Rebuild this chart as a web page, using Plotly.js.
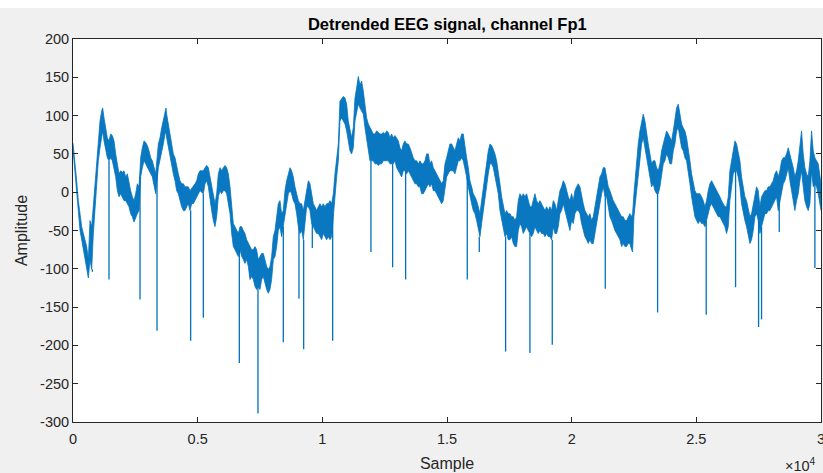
<!DOCTYPE html>
<html>
<head>
<meta charset="utf-8">
<script src="https://cdn.plot.ly/plotly-3.0.1.min.js"></script>
<style>html,body{margin:0;padding:0;background:#f0f0f0;}#chart{width:823px;height:473px;}</style>
</head>
<body>
<div id="chart"></div>
<script>
// ---- Data ----
// Sample index of each envelope reading
const sampleIdx = [
0,81,147,214,281,348,415,482,549,615,682,749,816,883,950,1016,1083,1150,1190,1244,1311,1377,1444,1511,1578,1645,1712,1779,1845,1912,1979,2046,2113,2180,2246,2313,2380,2447,2514,2581,2648,2714,2781,2848,2915,2982,3049,3116,3182,3249,3316,3423,
3489,3556,3623,3690,3730,3756,3823,3890,3957,4024,4091,4158,4224,4291,4358,4425,4492,4559,4625,4692,4759,4826,4893,4960,5027,5093,5160,5227,5294,5361,5428,5495,5561,5628,5695,5762,5829,5896,5962,6029,6096,6163,6230,6297,6364,6430,6497,6564,6631,6698,6765,6832,6898,6965,7032,
7098,7165,7232,7299,7365,7432,7499,7566,7633,7700,7767,7833,7900,7967,8034,8101,8168,8234,8301,8368,8435,8502,8569,8636,8702,8769,8836,8903,8970,9037,9104,9170,9237,9304,9371,9438,9505,9572,9638,9705,9772,9839,9906,9973,10039,10106,10173,10240,10307,10374,10441,10507,10574,10641,
10707,10774,10841,10908,10975,11041,11108,11175,11242,11309,11375,11442,11509,11576,11643,11710,11777,11843,11910,11977,12044,12111,12178,12245,12311,12378,12445,12512,12579,12646,12713,12779,12846,12913,12980,13047,13114,13180,13247,13314,13381,13448,13515,13582,13648,13715,13782,13849,13916,13983,14050,14116,14183,14250,
14316,14383,14450,14517,14583,14650,14717,14784,14851,14918,14985,15051,15118,15185,15252,15319,15386,15452,15519,15586,15653,15720,15787,15854,15920,15987,16054,16121,16188,16255,16322,16388,16455,16522,16589,16656,16723,16790,16857,16923,16990,17057,17124,17191,17258,17324,17391,17458,17525,17592,17659,17725,17792,17859,
17925,17992,18059,18126,18192,18259,18326,18393,18460,18527,18594,18660,18727,18794,18861,18928,18995,19061,19128,19195,19262,19329,19396,19463,19529,19596,19663,19730,19797,19864,19930,19997,20064,20131,20198,20265,20332,20398,20465,20532,20599,20666,20733,20800,20866,20933,21000,21067,21134,21201,21267,21334,21401,21468,
21534,21601,21668,21735,21801,21868,21935,22002,22069,22136,22203,22269,22336,22403,22443,22497,22537,22604,22670,22737,22804,22871,22938,23005,23072,23138,23205,23272,23339,23406,23473,23540,23606,23673,23740,23807,23874,23941,24007,24074,24141,24208,24275,24342,24409,24475,24542,24609,24676,24743,24810,24876,24943,25010,25077,
25143,25210,25277,25344,25410,25477,25544,25611,25678,25745,25812,25878,25945,26012,26079,26146,26213,26279,26346,26413,26480,26547,26614,26681,26747,26814,26881,26948,27015,27082,27149,27215,27282,27349,27416,27483,27550,27616,27683,27750,27817,27884,27951,28018,28084,28151,28218,28285,28352,28419,28486,28552,28619,28686,28753,28820,28887,28953,
29020,29087,29153,29220,29287,29354,29421,29488,29555,29621,29688,29755,29822,29889,30000
];
// Upper edge of the noisy signal band (amplitude)
const upperEnv = [
64,41,15,-11,-28,-45,-54,-62,-71,-88,-37,-45,-19,15,41,67,93,106,110,97,84,71,67,76,74,67,50,37,24,28,26,28,20,24,11,2,-6,-11,-2,11,7,45,58,67,65,61,54,45,41,32,24,63,
71,84,93,106,110,102,89,76,63,50,45,32,24,15,11,11,7,7,7,2,5,7,11,15,24,28,28,28,32,35,32,20,7,-6,-15,-2,24,32,28,32,35,32,24,7,-19,-41,-45,-50,-54,-45,-45,-50,-54,-62,-67,
-71,-75,-75,-71,-75,-88,-84,-80,-80,-88,-97,-101,-97,-84,-58,-50,-32,-15,-11,-28,-24,2,15,24,32,28,20,7,-2,-11,-15,-15,-24,-11,7,15,11,-2,-15,-19,-24,-19,-15,-19,-15,-19,-15,-15,-11,-15,-2,24,41,63,
119,123,125,123,115,93,80,71,84,123,136,151,140,145,132,115,97,89,84,80,76,76,80,78,76,76,78,76,80,78,71,76,71,74,71,67,58,54,63,67,63,63,58,50,45,41,41,37,41,37,37,41,50,50,
37,41,32,28,24,20,15,11,15,37,45,54,63,63,58,54,63,71,67,76,76,58,45,32,15,7,-2,-6,-11,-19,-28,-11,7,24,37,54,63,61,56,50,41,28,11,-6,-15,-28,-24,-28,-28,-32,-32,-37,-32,-11,
-2,-6,-2,-6,-2,-11,-19,-19,-11,-2,-11,-15,-11,-15,-19,-24,-19,-24,-19,-24,-11,-15,-24,-11,2,7,15,11,2,-6,-11,-2,-11,2,7,11,7,-6,-15,-24,-28,-32,-28,-37,-32,-19,-11,2,20,24,32,32,20,7,
2,-6,-11,-15,-19,-24,-28,-32,-32,-37,-37,-32,-28,-32,-28,-2,15,41,63,80,93,102,93,76,63,50,37,41,41,32,28,37,54,63,71,80,76,71,67,80,97,110,115,102,89,84,80,71,58,41,24,11,2,-2,-2,
-2,-6,-11,-19,-11,2,11,15,11,7,2,-2,-6,-11,-15,-19,-19,-6,28,41,58,67,63,54,41,20,7,-6,-11,-24,-32,-28,-15,-2,7,2,-19,-6,-2,2,2,7,7,11,15,24,28,20,28,41,45,45,50,58,50,41,32,20,
28,41,58,80,50,32,24,20,41,80,54,45,41,37,11
];
// Lower edge of the noisy signal band (amplitude)
const lowerEnv = [
56,28,-2,-28,-50,-62,-75,-88,-101,-112,-88,-101,-54,-19,11,41,58,71,80,67,54,45,41,45,41,32,20,2,-6,-2,-6,-11,-11,-15,-19,-28,-32,-39,-32,-28,-24,20,32,41,37,32,28,24,20,7,-2,32,
41,54,63,76,78,71,58,45,32,24,15,2,-2,-11,-19,-24,-24,-19,-15,-24,-15,-15,-11,-6,-2,2,0,-2,11,15,7,-11,-24,-37,-45,-32,-6,2,-2,2,2,-2,-15,-28,-54,-71,-75,-80,-84,-75,-84,-88,-93,-88,-97,
-114,-110,-114,-123,-127,-123,-127,-114,-110,-119,-127,-132,-127,-114,-88,-84,-71,-50,-45,-58,-45,-28,-15,-2,2,-2,-11,-15,-28,-45,-54,-50,-62,-37,-19,-19,-24,-41,-45,-50,-54,-54,-58,-62,-54,-58,-62,-58,-62,-58,-28,-2,20,41,
93,97,93,89,80,67,54,50,58,93,106,115,110,106,102,84,71,58,41,41,41,37,37,35,37,37,41,41,41,41,37,37,37,41,32,28,24,20,28,28,24,28,24,20,15,11,11,7,7,-2,-2,2,7,11,
7,11,2,2,-2,-6,-11,-15,-11,7,20,24,28,28,28,24,32,41,41,45,41,32,20,7,-6,-15,-24,-28,-37,-50,-58,-41,-24,-6,7,24,37,37,32,20,11,-2,-24,-37,-45,-58,-54,-62,-62,-58,-67,-71,-71,-50,
-41,-45,-54,-50,-45,-50,-54,-58,-54,-45,-50,-54,-50,-54,-54,-58,-54,-58,-58,-62,-45,-54,-54,-45,-28,-24,-15,-24,-32,-41,-50,-37,-41,-28,-24,-24,-28,-41,-50,-58,-62,-67,-62,-67,-67,-54,-41,-28,-11,-2,7,-6,-6,-19,
-32,-37,-45,-50,-54,-58,-62,-71,-67,-71,-71,-67,-67,-75,-78,-32,-19,7,28,45,63,71,58,45,28,15,7,11,2,-2,-2,7,24,37,41,50,45,37,37,54,63,80,84,71,58,54,45,41,28,11,-6,-19,-32,-37,-41,
-37,-41,-41,-45,-37,-28,-19,-15,-19,-24,-28,-32,-32,-37,-41,-45,-54,-45,-11,7,24,28,28,20,7,-15,-28,-37,-45,-58,-67,-62,-50,-32,-28,-37,-54,-45,-37,-28,-28,-24,-24,-19,-15,-11,-6,-24,-11,2,11,15,24,32,15,2,-11,-24,
-11,-2,15,28,7,-11,-19,-24,-15,28,7,11,7,-2,-24
];
// Sharp downward artefact spikes: sample index and minimum amplitude
const spikeIdx = [776,1444,2688,3370,4719,5227,6671,7419,8435,9063,9251,9598,10414,11950,12819,13341,15813,16295,17351,18326,19222,21348,23446,25397,26574,27496,27616,28325,29755];
const spikeMin = [-104,-114,-140,-181,-194,-164,-223,-289,-196,-139,-205,-73,-194,-78,-98,-114,-114,-78,-208,-210,-199,-126,-157,-160,-124,-176,-166,-52,-99];
// Tick labels
const xTickVals = [0,5000,10000,15000,20000,25000,30000];
const xTickText = ['0','0.5','1','1.5','2','2.5','3'];
const yTickVals = [-300,-250,-200,-150,-100,-50,0,50,100,150,200];
const yTickText = ['-300','-250','-200','-150','-100','-50','0','50','100','150','200'];

// ---- Build traces ----
const blue = '#0072BD';
function nearestLower(s){
  let best = 0, bd = Infinity;
  for (let i = 0; i < sampleIdx.length; i++){
    const d = Math.abs(sampleIdx[i] - s);
    if (d < bd){ bd = d; best = i; }
  }
  return lowerEnv[best];
}
const spX = [], spY = [];
spikeIdx.forEach((s, i) => { spX.push(s, s, null); spY.push(nearestLower(s), spikeMin[i], null); });

const traces = [
  {x: sampleIdx, y: lowerEnv, type: 'scatter', mode: 'lines', line: {color: 'rgba(0,114,189,0.75)', width: 1}, hoverinfo: 'skip', showlegend: false},
  {x: sampleIdx, y: upperEnv, type: 'scatter', mode: 'lines', fill: 'tonexty', fillcolor: 'rgba(0,114,189,0.96)', line: {color: 'rgba(0,114,189,0.75)', width: 1}, showlegend: false},
  {x: spX, y: spY, type: 'scatter', mode: 'lines', line: {color: blue, width: 1.3}, connectgaps: false, showlegend: false}
];

const axisCol = '#262626';
const fontFam = 'Liberation Sans, Arial, Helvetica, sans-serif';
const layout = {
  width: 823, height: 473,
  paper_bgcolor: '#f0f0f0', plot_bgcolor: '#ffffff',
  margin: {l: 73, r: 2, t: 39, b: 51},
  font: {family: fontFam, color: axisCol, size: 14.5},
  title: {text: '<b>Detrended EEG signal, channel Fp1</b>', font: {family: fontFam, size: 16.5, color: '#000000'}, x: 0.5435, xanchor: 'center', y: 0.949, yanchor: 'middle'},
  xaxis: {
    range: [0, 30000], tickmode: 'array', tickvals: xTickVals, ticktext: xTickText,
    ticks: 'inside', ticklen: 5, tickcolor: axisCol, showline: true, linecolor: axisCol, linewidth: 1, mirror: 'ticks',
    showgrid: false, zeroline: false, ticklabeloverflow: 'allow', ticklabelstandoff: 4,
    tickfont: {size: 14.5, color: axisCol},
    title: {text: 'Sample', font: {size: 16, color: axisCol}, standoff: 11}
  },
  yaxis: {
    range: [-300, 200], tickmode: 'array', tickvals: yTickVals, ticktext: yTickText,
    ticks: 'inside', ticklen: 5, tickcolor: axisCol, showline: true, linecolor: axisCol, linewidth: 1, mirror: 'ticks',
    showgrid: false, zeroline: false,
    tickfont: {size: 14.5, color: axisCol},
    title: {text: 'Amplitude', font: {size: 16, color: axisCol}, standoff: 8}
  },
  shapes: [
    {type: 'rect', xref: 'paper', yref: 'paper', x0: -0.1, x1: 1.01, y0: 1.081, y1: 1.11, fillcolor: '#ffffff', line: {width: 0}, layer: 'below'}
  ],
  annotations: [
    {xref: 'paper', yref: 'paper', x: 0.996, y: -0.112, xanchor: 'right', yanchor: 'middle', showarrow: false,
     text: '×10<sup>4</sup>', font: {size: 14.5, color: axisCol}}
  ]
};
Plotly.newPlot('chart', traces, layout, {displayModeBar: false, staticPlot: true});
</script>
</body>
</html>
